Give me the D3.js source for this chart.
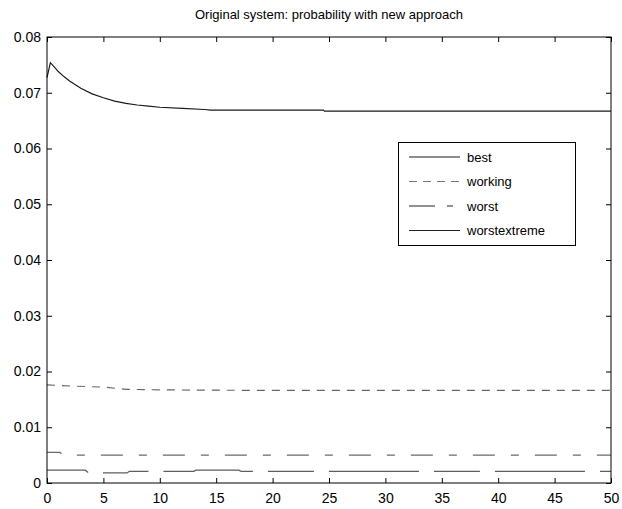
<!DOCTYPE html>
<html>
<head>
<meta charset="utf-8">
<script src="https://cdn.jsdelivr.net/npm/d3@7"></script>
<style>
  body { margin: 0; background: #fff; }
  svg text { font-family: Arial, "Liberation Sans", Helvetica, sans-serif; }
</style>
</head>
<body>
<svg id="chart" width="622" height="509"></svg>
<script>
// data
const xTicks = [0, 5, 10, 15, 20, 25, 30, 35, 40, 45, 50];
const yTicks = [0, 0.01, 0.02, 0.03, 0.04, 0.05, 0.06, 0.07, 0.08];
const seriesNames = ['best', 'working', 'worst', 'worstextreme'];

const bestT = [0, 0.3, 0.7, 1, 1.5, 2, 3, 4, 5, 6, 7, 8, 9, 10, 12, 14, 14.5, 24.5, 24.6, 50];
const bestV = [0.0727, 0.0754, 0.0745, 0.0738, 0.0729, 0.0721, 0.0708, 0.0698, 0.0691, 0.0685,
  0.0681, 0.0678, 0.0676, 0.0674, 0.0672, 0.0670, 0.0669, 0.0669, 0.0667, 0.0667];

const workingT = [0, 2, 5, 7, 10, 20, 50];
const workingV = [0.0176, 0.0174, 0.0172, 0.0168, 0.0167, 0.0166, 0.0166];

const worstT = [0, 1.15, 1.4, 50];
const worstV = [0.0055, 0.0055, 0.0050, 0.0050];

const extremeT = [0, 3.4, 3.7, 7.1, 7.3, 13, 13.2, 17, 17.2, 50];
const extremeV = [0.0023, 0.0023, 0.0018, 0.0018, 0.0021, 0.0021, 0.0023, 0.0023, 0.0021, 0.0021];

// layout
const svg = d3.select('#chart');
const plot = { left: 47, top: 37, right: 611, bottom: 483 };

const x = d3.scaleLinear().domain([0, 50]).range([plot.left, plot.right]);
const y = d3.scaleLinear().domain([0, 0.08]).range([plot.bottom, plot.top]);

const styles = {
  best:         { stroke: '#1a1a1a', dash: null, offset: 0, legendStroke: '#1a1a1a', legendDash: null },
  working:      { stroke: '#666', dash: '8,7', offset: 0, legendStroke: '#777', legendDash: '8,6' },
  worst:        { stroke: '#6a6a6a', dash: '22,16,8,16', offset: 7, legendStroke: '#222', legendDash: '26,12,6,8' },
  worstextreme: { stroke: '#5e5e5e', dash: '90,15,46,15', offset: 48, legendStroke: '#222', legendDash: null }
};

const series = [
  { name: 'best', t: bestT, v: bestV },
  { name: 'working', t: workingT, v: workingV },
  { name: 'worst', t: worstT, v: worstV },
  { name: 'worstextreme', t: extremeT, v: extremeV }
];

// title
svg.append('text')
  .attr('x', (plot.left + plot.right) / 2)
  .attr('y', 19)
  .attr('text-anchor', 'middle')
  .attr('font-size', 13)
  .attr('fill', '#000')
  .text('Original system: probability with new approach');

// lines
const line = d3.line()
  .x(d => x(d[0]))
  .y(d => y(d[1]));

series.forEach(s => {
  const st = styles[s.name];
  svg.append('path')
    .datum(s.t.map((t, i) => [t, s.v[i]]))
    .attr('fill', 'none')
    .attr('stroke', st.stroke)
    .attr('stroke-width', 1.2)
    .attr('stroke-dasharray', st.dash)
    .attr('stroke-dashoffset', st.offset)
    .attr('d', line);
});

// axes (matlab style box with inward ticks)
const tickLen = 5;
const xAxis = d3.axisBottom(x).tickValues(xTicks).tickSizeInner(-tickLen).tickSizeOuter(0).tickPadding(10).tickFormat(d3.format('d'));
const yAxis = d3.axisLeft(y).tickValues(yTicks).tickSizeInner(-tickLen).tickSizeOuter(0).tickPadding(6)
  .tickFormat(d => d === 0 ? '0' : d3.format('.2f')(d));
const xTop = d3.axisTop(x).tickValues(xTicks).tickSizeInner(-tickLen).tickSizeOuter(0).tickFormat('');
const yRight = d3.axisRight(y).tickValues(yTicks).tickSizeInner(-tickLen).tickSizeOuter(0).tickFormat('');

const gx = svg.append('g').attr('transform', `translate(0,${plot.bottom})`).call(xAxis);
const gy = svg.append('g').attr('transform', `translate(${plot.left},0)`).call(yAxis);
const gt = svg.append('g').attr('transform', `translate(0,${plot.top})`).call(xTop);
const gr = svg.append('g').attr('transform', `translate(${plot.right},0)`).call(yRight);

[gx, gy, gt, gr].forEach(g => {
  g.select('.domain').remove();
  g.selectAll('.tick line').attr('stroke', '#000');
  g.selectAll('.tick text').attr('font-size', 14).attr('fill', '#000')
    .style('font-family', 'Arial, "Liberation Sans", Helvetica, sans-serif');
});

svg.append('rect')
  .attr('x', plot.left)
  .attr('y', plot.top)
  .attr('width', plot.right - plot.left)
  .attr('height', plot.bottom - plot.top)
  .attr('fill', 'none')
  .attr('stroke', '#000')
  .attr('stroke-width', 1);

// legend
const legend = svg.append('g').attr('transform', 'translate(398,142)');
legend.append('rect')
  .attr('x', 0.5).attr('y', 0.5)
  .attr('width', 177).attr('height', 103)
  .attr('fill', '#fff')
  .attr('stroke', '#000');

seriesNames.forEach((name, i) => {
  const st = styles[name];
  const ly = 15 + i * 24.5;
  legend.append('line')
    .attr('x1', 11).attr('x2', 62)
    .attr('y1', ly).attr('y2', ly)
    .attr('stroke', st.legendStroke)
    .attr('stroke-width', 1)
    .attr('stroke-dasharray', st.legendDash);
  legend.append('text')
    .attr('x', 69)
    .attr('y', ly)
    .attr('dy', '0.35em')
    .attr('font-size', 13)
    .attr('fill', '#000')
    .text(name);
});
</script>
</body>
</html>
